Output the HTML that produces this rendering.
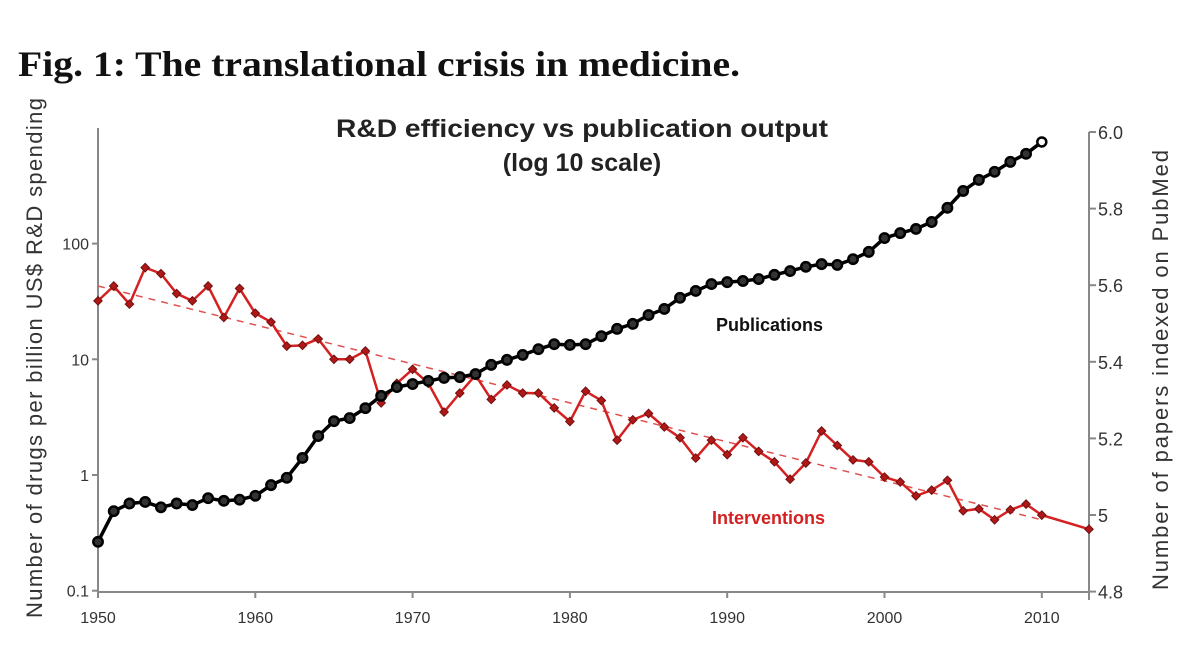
<!DOCTYPE html>
<html><head><meta charset="utf-8"><style>
body{margin:0;background:#fff;width:1182px;height:665px;overflow:hidden}
svg text{font-family:"Liberation Sans",sans-serif}
</style></head><body>
<svg id="chart" width="1182" height="665">
<text x="18" y="76" font-weight="bold" font-size="36" fill="#111" textLength="722" lengthAdjust="spacingAndGlyphs" style="font-family:'Liberation Serif',serif">Fig. 1: The translational crisis in medicine.</text>
<text x="582" y="137" text-anchor="middle" font-size="25" font-weight="bold" fill="#222" textLength="492" lengthAdjust="spacingAndGlyphs">R&amp;D efficiency vs publication output</text>
<text x="582" y="171" text-anchor="middle" font-size="25" font-weight="bold" fill="#222">(log 10 scale)</text>
<text transform="translate(42,358) rotate(-90)" text-anchor="middle" font-size="22" fill="#333" textLength="520">Number of drugs per billion US$ R&amp;D spending</text>
<text transform="translate(1168,370) rotate(-90)" text-anchor="middle" font-size="22" fill="#333" textLength="440">Number of papers indexed on PubMed</text>
<text x="716" y="331" font-size="18" font-weight="bold" fill="#111">Publications</text>
<text x="712" y="524" font-size="18" font-weight="bold" fill="#d42020">Interventions</text>
<g id="axes"></g>
<g id="marks"></g>
</svg>
<script>
const years=[];for(let y=1950;y<=2010;y++)years.push(y);
const interventions=[32,43,30,62,55,37,32,43,23,41,25,21,13,13.2,15,10,10,11.8,4.2,6.2,8.2,6.2,3.5,5.1,7.3,4.5,6,5.1,5.1,3.8,2.9,5.3,4.4,2,3,3.4,2.6,2.1,1.4,2,1.5,2.1,1.6,1.3,0.92,1.27,2.4,1.8,1.35,1.3,0.96,0.87,0.66,0.74,0.9,0.49,0.51,0.41,0.5,0.56,0.45];
const lastYear=2013, lastValue=0.34;
const trendStart=[1950,43], trendEnd=[2010,0.41];
const publications=[4.93,5.01,5.03,5.034,5.02,5.03,5.026,5.044,5.037,5.04,5.05,5.078,5.097,5.149,5.206,5.245,5.253,5.279,5.311,5.334,5.342,5.35,5.358,5.36,5.368,5.392,5.405,5.418,5.433,5.446,5.444,5.446,5.467,5.486,5.499,5.522,5.538,5.567,5.585,5.603,5.608,5.611,5.616,5.627,5.637,5.648,5.655,5.653,5.668,5.687,5.723,5.736,5.747,5.765,5.802,5.846,5.875,5.896,5.922,5.943,5.974];
const xTicks=[1950,1960,1970,1980,1990,2000,2010];
const leftTicks=[0.1,1,10,100];const leftLabels=["0.1","1","10","100"];
const rightTicks=[4.8,5.0,5.2,5.4,5.6,5.8,6.0];const rightLabels=["4.8","5","5.2","5.4","5.6","5.8","6.0"];

const X=y=>98+(y-1950)*15.73;
const YL=v=>475-Math.log10(v)*115.7;
const YR=v=>132+(6-v)*383;
const NS='http://www.w3.org/2000/svg';
function mk(tag,attrs,parent){const e=document.createElementNS(NS,tag);for(const k in attrs)e.setAttribute(k,attrs[k]);parent.appendChild(e);return e;}
const ax=document.getElementById('axes'),mg=document.getElementById('marks');
let e;
e=mk('line',{x1:98,y1:128,x2:98,y2:592,stroke:'#888','stroke-width':2},ax);

e=mk('line',{x1:1089,y1:132,x2:1089,y2:600,stroke:'#888','stroke-width':2},ax);

e=mk('line',{x1:98,y1:592,x2:1089,y2:592,stroke:'#888','stroke-width':2},ax);

xTicks.forEach(t=>{mk('line',{x1:X(t),y1:592,x2:X(t),y2:598,stroke:'#888','stroke-width':2},ax);
 e=mk('text',{x:X(t),y:623,'text-anchor':'middle','font-size':16,fill:'#333'},ax);e.textContent=t;
 });
leftTicks.forEach((t,i)=>{mk('line',{x1:92,y1:YL(t),x2:98,y2:YL(t),stroke:'#888','stroke-width':2},ax);
 e=mk('text',{x:89,y:YL(t)+6,'text-anchor':'end','font-size':16,fill:'#333'},ax);e.textContent=leftLabels[i];
 });
rightTicks.forEach((t,i)=>{mk('line',{x1:1089,y1:YR(t),x2:1096,y2:YR(t),stroke:'#888','stroke-width':2},ax);
 e=mk('text',{x:1098,y:YR(t)+7,'font-size':18,fill:'#333'},ax);e.textContent=rightLabels[i];
 });
e=mk('line',{x1:X(trendStart[0]),y1:YL(trendStart[1]),x2:X(trendEnd[0]),y2:YL(trendEnd[1]),stroke:'#e05050','stroke-width':1.5,'stroke-dasharray':'7,6'},mg);

let pts=years.map((y,i)=>X(y)+','+YL(interventions[i]));pts.push(X(lastYear)+','+YL(lastValue));
e=mk('polyline',{points:pts.join(' '),fill:'none',stroke:'#d42020','stroke-width':2.5},mg);

const ip=years.map((y,i)=>[X(y),YL(interventions[i])]);ip.push([X(lastYear),YL(lastValue)]);
ip.forEach(p=>{e=mk('rect',{x:p[0]-3,y:p[1]-3,width:6,height:6,fill:'#b01818',stroke:'#701010','stroke-width':1,transform:`rotate(45 ${p[0]} ${p[1]})`},mg);
 });
e=mk('polyline',{points:years.map((y,i)=>X(y)+','+YR(publications[i])).join(' '),fill:'none',stroke:'#000','stroke-width':3.5},mg);

years.forEach((y,i)=>{const last=i===years.length-1;
 e=mk('circle',{cx:X(y),cy:YR(publications[i]),r:last?4.5:4.7,fill:last?'#fff':'#333',stroke:'#000','stroke-width':2.5},mg);
 });
</script>
</body></html>
